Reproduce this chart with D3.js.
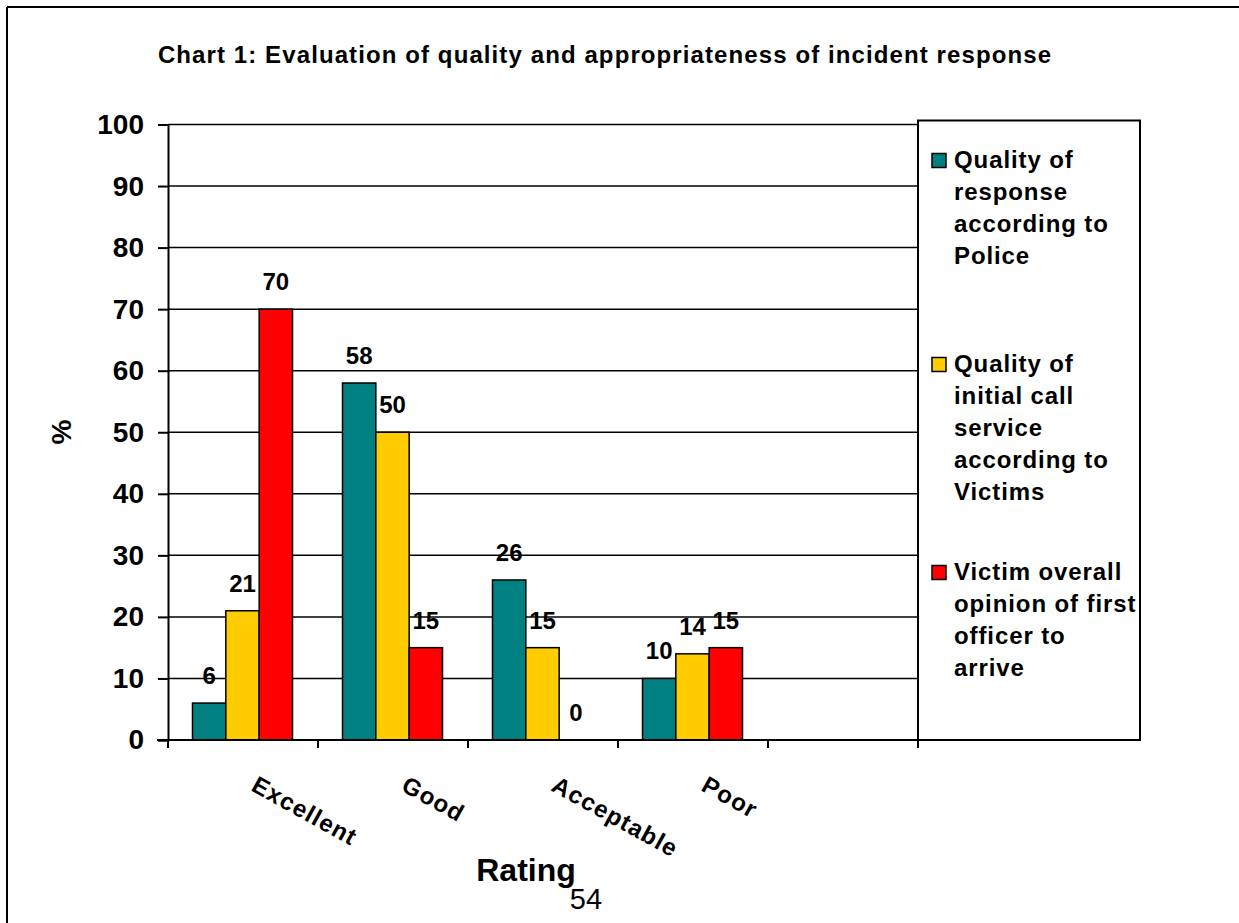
<!doctype html>
<html>
  <head>
    <script src="https://cdnjs.cloudflare.com/ajax/libs/d3/7.8.5/d3.min.js"></script>
    <style>
      body { margin: 0; background: #fff; }
      svg { font-family: "Liberation Sans", Arial, sans-serif; font-weight: bold; }
      line.grid { stroke: #000; stroke-width: 1.5; }
      rect.bar { stroke: #000; stroke-width: 1.5; }
      .axis path, .axis line { stroke: #000; stroke-width: 2; }
    </style>
  </head>
  <body>
    <svg width="1239" height="923"></svg>
    <script>
      var categories = ["Excellent", "Good", "Acceptable", "Poor"];
      var seriesNames = ["police", "victimsCall", "firstOfficer"];
      var police = [6, 58, 26, 10];
      var victimsCall = [21, 50, 15, 14];
      var firstOfficer = [70, 15, 0, 15];
      var seriesColors = ["#008080", "#FFCC00", "#FF0000"];
      var legendLines = [
        ["Quality of", "response", "according to", "Police"],
        ["Quality of", "initial call", "service", "according to", "Victims"],
        ["Victim overall", "opinion of first", "officer to", "arrive"]
      ];
      var yTicks = [0, 10, 20, 30, 40, 50, 60, 70, 80, 90, 100];

      var values = { police: police, victimsCall: victimsCall, firstOfficer: firstOfficer };
      var rows = categories.map((c, i) => ({
        cat: c,
        bars: seriesNames.map((s, j) => ({ s: s, v: values[s][i], color: seriesColors[j] }))
      }));

      var svg = d3.select("svg");

      // frame
      svg.append("line").attr("x1", 7).attr("x2", 1239).attr("y1", 7).attr("y2", 7)
        .attr("stroke", "#000").attr("stroke-width", 2);
      svg.append("line").attr("x1", 7).attr("x2", 7).attr("y1", 7).attr("y2", 923)
        .attr("stroke", "#000").attr("stroke-width", 2);

      var x0 = d3.scaleBand().domain(categories.concat([""])).range([168, 918]);
      var x1 = d3.scaleBand().domain(seriesNames).range([24.5, 124.5]);
      var y = d3.scaleLinear().domain([0, 100]).range([740, 124.5]);

      // gridlines
      svg.selectAll("line.grid").data(yTicks.slice(1))
        .enter().append("line")
          .attr("class", "grid")
          .attr("x1", 168).attr("x2", 918)
          .attr("y1", d => y(d)).attr("y2", d => y(d));

      // bars
      var groups = svg.selectAll("g.cat").data(rows)
        .enter().append("g")
          .attr("class", "cat")
          .attr("transform", d => "translate(" + x0(d.cat) + ",0)");

      groups.selectAll("rect").data(d => d.bars.filter(b => b.v > 0))
        .enter().append("rect")
          .attr("class", "bar")
          .attr("x", d => x1(d.s))
          .attr("width", x1.bandwidth())
          .attr("y", d => y(d.v))
          .attr("height", d => y(0) - y(d.v))
          .attr("fill", d => d.color);

      groups.selectAll("text").data(d => d.bars)
        .enter().append("text")
          .attr("x", d => x1(d.s) + x1.bandwidth() / 2)
          .attr("y", d => y(d.v) - 19)
          .attr("text-anchor", "middle")
          .attr("font-size", 24)
          .text(d => d.v);

      // y axis
      var yAxis = svg.append("g").attr("class", "axis")
        .attr("transform", "translate(168,0)")
        .call(d3.axisLeft(y).tickValues(yTicks).tickSize(10).tickPadding(14));
      yAxis.selectAll("text").attr("font-size", 28).attr("font-weight", "bold")
        .attr("font-family", "Liberation Sans, Arial, sans-serif").attr("fill", "#000");

      // x axis
      var xAxis = svg.append("g").attr("class", "axis")
        .attr("transform", "translate(0,740)");
      xAxis.append("line").attr("x1", 157).attr("x2", 918).attr("y1", 0).attr("y2", 0);
      xAxis.selectAll("line.tick").data(x0.domain().concat(["end"]))
        .enter().append("line")
          .attr("class", "tick")
          .attr("x1", (d, i) => 168 + i * x0.step())
          .attr("x2", (d, i) => 168 + i * x0.step())
          .attr("y1", 0).attr("y2", 8);

      svg.selectAll("text.xlab").data(categories)
        .enter().append("text")
          .attr("class", "xlab")
          .attr("font-size", 24)
          .attr("letter-spacing", 1.2)
          .attr("transform", d => "translate(" + (x0(d) + x0.bandwidth() / 2 + 7) + ",790) rotate(29)")
          .text(d => d);

      // legend
      svg.append("rect")
        .attr("x", 918).attr("y", 120.5).attr("width", 222).attr("height", 619.5)
        .attr("fill", "#fff").attr("stroke", "#000").attr("stroke-width", 2);
      var entryTop = [168, 372, 580];
      legendLines.forEach((lines, i) => {
        svg.append("rect")
          .attr("x", 932).attr("y", entryTop[i] - 14.5).attr("width", 14).attr("height", 14)
          .attr("fill", seriesColors[i]).attr("stroke", "#000").attr("stroke-width", 1.5);
        svg.append("text")
          .attr("font-size", 24)
          .attr("letter-spacing", 0.9)
          .selectAll("tspan").data(lines)
          .enter().append("tspan")
            .attr("x", 954)
            .attr("y", (d, k) => entryTop[i] + k * 32)
            .text(d => d);
      });

      // titles
      svg.append("text")
        .attr("x", 605).attr("y", 63)
        .attr("text-anchor", "middle")
        .attr("font-size", 24)
        .attr("letter-spacing", 1.1)
        .text("Chart 1: Evaluation of quality and appropriateness of incident response");

      svg.append("text")
        .attr("transform", "translate(71,432) rotate(-90)")
        .attr("text-anchor", "middle")
        .attr("font-size", 28)
        .text("%");

      svg.append("text")
        .attr("x", 526).attr("y", 881)
        .attr("text-anchor", "middle")
        .attr("font-size", 32)
        .text("Rating");

      svg.append("text")
        .attr("x", 586).attr("y", 909)
        .attr("text-anchor", "middle")
        .attr("font-size", 29)
        .attr("font-weight", "normal")
        .text("54");
    </script>
  </body>
</html>
